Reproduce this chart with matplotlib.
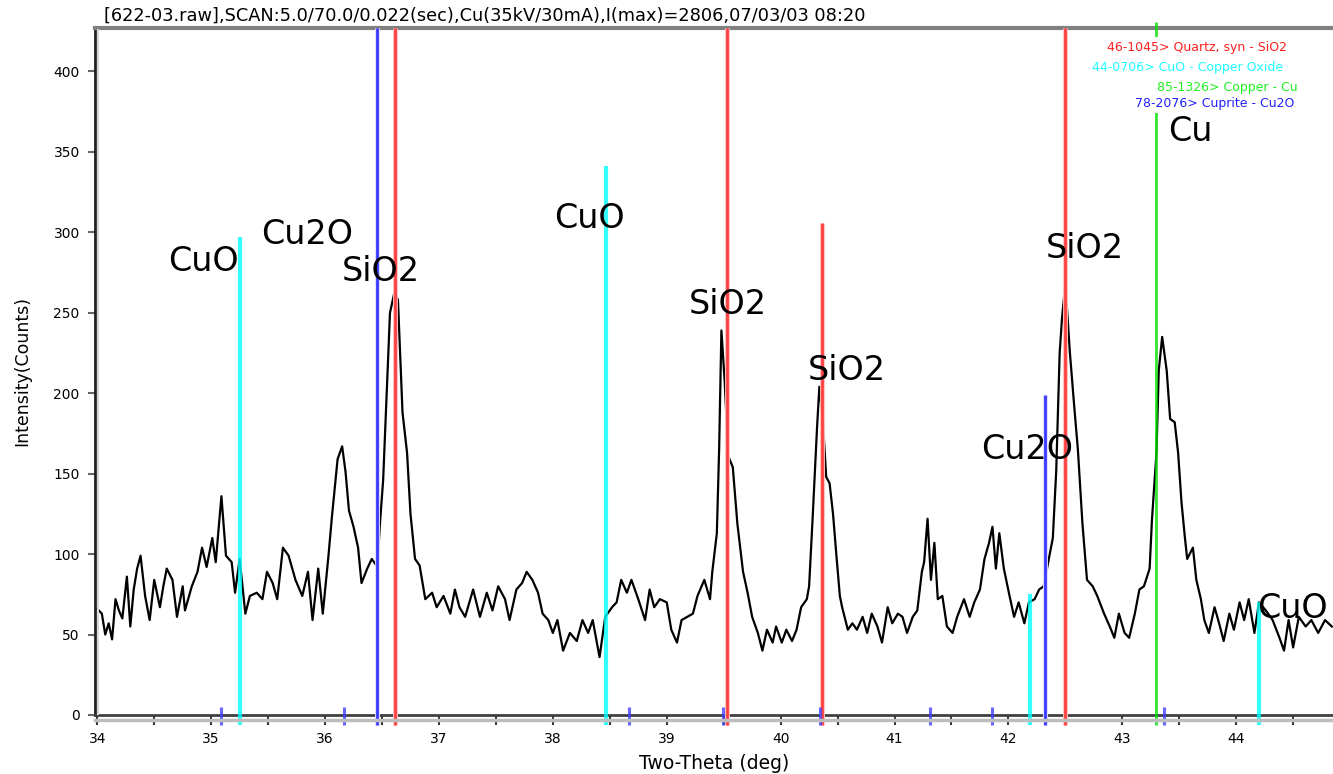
import matplotlib
matplotlib.use("Agg")
import matplotlib.pyplot as plt
from matplotlib.lines import Line2D
from matplotlib.patches import Rectangle

# XRD-Scan (2-Theta in Grad, Intensität in Counts)
two_theta = [
    34.00, 34.04, 34.07, 34.10, 34.13, 34.16, 34.19, 34.22, 34.26, 34.29, 34.32, 34.35,
    34.38, 34.42, 34.46, 34.50, 34.55, 34.58, 34.61, 34.66, 34.70, 34.75, 34.77, 34.83,
    34.88, 34.92, 34.96, 35.01, 35.04, 35.09, 35.13, 35.18, 35.21, 35.25, 35.30, 35.34,
    35.40, 35.45, 35.49, 35.54, 35.58, 35.63, 35.68, 35.74, 35.80, 35.85, 35.89, 35.94,
    35.98, 36.03, 36.06, 36.11, 36.15, 36.18, 36.21, 36.25, 36.29, 36.32, 36.37, 36.41,
    36.46, 36.48, 36.51, 36.54, 36.57, 36.61, 36.64, 36.68, 36.72, 36.75, 36.79,
    36.83, 36.88, 36.94, 36.98, 37.04, 37.10, 37.14, 37.18, 37.23, 37.30, 37.36, 37.42,
    37.47, 37.52, 37.58, 37.62, 37.68, 37.73, 37.77, 37.82, 37.87, 37.91, 37.96, 38.00,
    38.04, 38.09, 38.15, 38.21, 38.26, 38.31, 38.35, 38.41, 38.46, 38.52, 38.56, 38.60,
    38.65, 38.69, 38.75, 38.81, 38.85, 38.89, 38.94, 39.00, 39.04, 39.09, 39.13, 39.18,
    39.23, 39.27, 39.33, 39.38, 39.40, 39.44, 39.46, 39.48, 39.51, 39.54, 39.58, 39.62,
    39.67, 39.71,
    39.75, 39.80, 39.84, 39.88, 39.93, 39.96, 40.01, 40.05, 40.10, 40.14, 40.18, 40.23,
    40.25, 40.28, 40.32, 40.34, 40.37, 40.40, 40.43, 40.46, 40.49, 40.52, 40.54, 40.59,
    40.63, 40.67, 40.72, 40.76, 40.80, 40.85, 40.89, 40.94, 40.98, 41.03, 41.07, 41.11,
    41.16, 41.20, 41.24, 41.26, 41.29, 41.32, 41.35, 41.38, 41.42, 41.46, 41.51, 41.55,
    41.61, 41.66, 41.70, 41.75, 41.79, 41.83, 41.86, 41.89, 41.92, 41.96, 42.01, 42.05,
    42.09, 42.14, 42.18, 42.23, 42.27, 42.31, 42.36, 42.39, 42.42, 42.45, 42.47, 42.50,
    42.54, 42.58, 42.61, 42.65,
    42.69, 42.74, 42.78, 42.84, 42.89, 42.93, 42.97, 43.02, 43.06, 43.11, 43.15, 43.19,
    43.24, 43.26, 43.30, 43.32, 43.35, 43.39, 43.42, 43.46, 43.49, 43.52, 43.55, 43.57,
    43.62, 43.65, 43.69, 43.72, 43.76, 43.81, 43.85, 43.89, 43.94, 43.98, 44.03, 44.07,
    44.11, 44.16, 44.20, 44.26, 44.32, 44.38, 44.42, 44.46, 44.50, 44.55, 44.61, 44.66,
    44.72, 44.78, 44.84,
]
counts = [
    66, 63, 50, 57, 47, 72, 65, 60, 86, 55, 78, 91,
    99, 74, 59, 84, 67, 80, 91, 84, 61, 80, 65, 80,
    89, 104, 92, 110, 95, 136, 99, 95, 76, 97, 63, 74,
    76, 72, 89, 82, 72, 104, 99, 84, 74, 89, 59, 91,
    63, 99, 123, 159, 167, 151, 127, 117, 104, 82, 91, 97,
    92, 117, 146, 198, 250, 263, 258, 188, 163, 125, 97,
    93, 72, 76, 67, 74, 63, 78, 67, 61, 78, 61, 76,
    65, 80, 72, 59, 78, 82, 89, 84, 76, 63, 59, 51,
    59, 40, 51, 46, 59, 51, 59, 36, 61, 67, 70, 84,
    76, 84, 72, 59, 78, 67, 72, 70, 53, 45, 59, 61,
    63, 74, 84, 72, 89, 113, 165, 239, 206, 161, 154, 119,
    89, 76,
    61, 51, 40, 53, 45, 55, 45, 53, 46, 53, 67, 72,
    80, 121, 179, 204, 184, 148, 144, 125, 99, 74, 67, 53,
    57, 53, 61, 51, 63, 55, 45, 67, 57, 63, 61, 51,
    61, 65, 89, 95, 122, 84, 107, 72, 74, 55, 51, 61,
    72, 61, 70, 78, 97, 107, 117, 91, 113, 91, 74, 61,
    70, 57, 70, 72, 78, 80, 99, 110, 152, 225, 246, 268,
    225, 190, 165, 119,
    84, 80, 74, 63, 55, 48, 63, 51, 48, 63, 78, 80,
    91, 121, 163, 214, 235, 214, 184, 182, 163, 132, 110, 97,
    104, 84, 72, 59, 51, 67, 57, 46, 63, 53, 70, 59,
    72, 51, 70, 65, 59, 48, 40, 59, 42, 61, 55, 59,
    51, 59, 55,
]

Y_TOP = 427  # oberer Rand der Achse (Counts)

# Referenzlinien (PDF-Karten), Höhe in Counts; Y_TOP = volle Höhe
quartz_pos = [36.61, 39.53, 40.36, 42.50]
quartz_h = [Y_TOP, Y_TOP, 306, Y_TOP]
cuo_pos = [35.25, 38.47, 42.19, 44.20]
cuo_h = [297, 341, 75, 70]
cu_pos = [43.30]
cu_h = [431]
cu2o_pos = [36.46, 42.32]
cu2o_h = [Y_TOP, 199]
cu2o_small = [35.09, 36.17, 38.67, 39.49, 40.35, 41.31, 41.86, 43.37]

# Phasen-Beschriftungen: (Text, 2-Theta, Grundlinie in Counts)
peak_labels = ["CuO", "Cu2O", "SiO2", "CuO", "SiO2", "SiO2", "Cu2O", "SiO2", "Cu", "CuO"]
peak_x = [34.93, 35.84, 36.49, 38.32, 39.54, 40.58, 42.16, 42.67, 43.60, 44.49]
peak_y = [276, 293, 270, 303, 249, 208, 159, 284, 357, 60]

legend_text = [
    "46-1045> Quartz, syn - SiO2",
    "44-0706> CuO - Copper Oxide",
    "85-1326> Copper - Cu",
    "78-2076> Cuprite - Cu2O",
]
legend_color = ["#ff2020", "#20ffff", "#20f020", "#2020ff"]

title = "[622-03.raw],SCAN:5.0/70.0/0.022(sec),Cu(35kV/30mA),I(max)=2806,07/03/03 08:20"

W, H = 1333, 774


def fx(px):
    return px / W


def fy(py):
    return 1 - py / H


def sticks(ax, pos, tops, color, lw, halo=None, halo_lw=None, bottom=-6):
    # Stickmuster: optional heller Saum darunter, dann die Linie
    for x, top in zip(pos, tops):
        if halo:
            ax.vlines(x, bottom, top, color=halo, lw=halo_lw, zorder=3, clip_on=False)
        ax.vlines(x, bottom, top, color=color, lw=lw, alpha=0.8, zorder=4, clip_on=False)


def main():
    plt.rcParams["font.family"] = ["DejaVu Sans"]
    fig = plt.figure(figsize=(W / 100, H / 100), dpi=100)
    ax = fig.add_axes([fx(95), fy(715), 1 - fx(95), (715 - 28) / H])

    ax.plot(two_theta, counts, color="black", lw=1.6, zorder=2)

    sticks(ax, quartz_pos, quartz_h, "#ff2020", 2.0, halo="#ffc0c0", halo_lw=3.5)
    sticks(ax, cuo_pos, cuo_h, "#00ffff", 3.0)
    sticks(ax, cu2o_pos, cu2o_h, "#1010ff", 2.0, halo="#dcdcff", halo_lw=3.5)
    sticks(ax, cu_pos, cu_h, "#00e000", 2.0)
    ax.vlines(cu2o_small, -6, 5, color="#4040ff", lw=2.2, alpha=0.8, zorder=4, clip_on=False)

    for txt, x, y in zip(peak_labels, peak_x, peak_y):
        ax.text(x, y, txt, fontsize=24, ha="center", va="baseline", color="black", zorder=5)

    ax.set_xlim(33.98, 44.85)
    ax.set_ylim(0, Y_TOP)
    ax.set_xticks(range(34, 45))
    ax.set_xticks([v + 0.5 for v in range(34, 45)], minor=True)
    ax.set_yticks(range(0, 401, 50))
    ax.tick_params(axis="x", which="both", direction="out", length=7, width=1.5,
                   color="#333333", labelsize=10, pad=5)
    ax.tick_params(axis="y", direction="out", length=5, width=1.5,
                   color="#666666", labelsize=10, pad=6)

    ax.spines["right"].set_visible(False)
    ax.spines["top"].set_color("#808080")
    ax.spines["top"].set_linewidth(3)
    ax.spines["left"].set_color("#202020")
    ax.spines["left"].set_linewidth(2)
    ax.spines["bottom"].set_color("#404040")
    ax.spines["bottom"].set_linewidth(2)

    # heller Schatten unter/rechts neben den Achsenlinien
    fig.add_artist(Line2D([fx(95), 1], [fy(720), fy(720)], color="#bdbdbd", lw=2.5))
    fig.add_artist(Line2D([fx(97.5), fx(97.5)], [fy(714), fy(30)], color="#d8d8d8", lw=1.5))

    ax.set_xlabel("Two-Theta (deg)", fontsize=13.5, labelpad=6)
    ax.set_ylabel("Intensity(Counts)", fontsize=12.5, labelpad=16)

    fig.text(fx(104), fy(16), title, fontsize=12.8, ha="left", va="center")

    # Legende oben rechts, weiß hinterlegt (verdeckt die grüne Linie)
    fig.add_artist(Rectangle((fx(1088), fy(113)), fx(220), 76 / H, transform=fig.transFigure,
                             facecolor="white", edgecolor="none", zorder=6))
    leg_x = [1107, 1092, 1157, 1135]
    leg_y = [47, 67, 87, 104]
    for txt, c, x, y in zip(legend_text, legend_color, leg_x, leg_y):
        fig.text(fx(x), fy(y), txt, color=c, fontsize=9, ha="left", va="center", zorder=7)

    fig.savefig("out.png", dpi=100)
    plt.close(fig)


if __name__ == "__main__":
    main()
